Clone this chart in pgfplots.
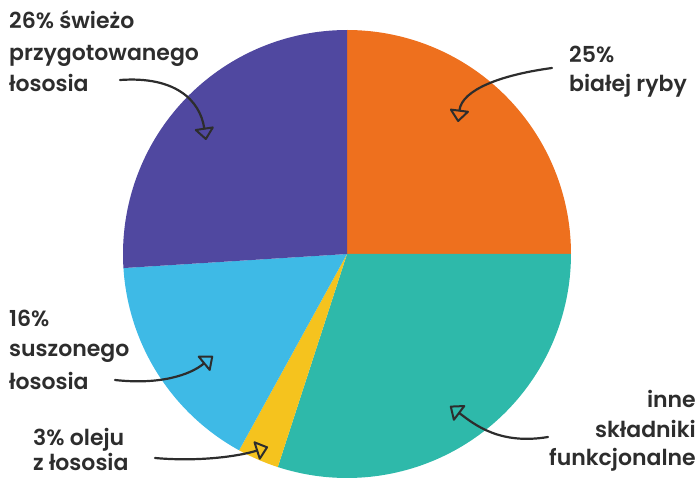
\documentclass[border=0pt]{standalone}
\usepackage{pgfplots}
\usepackage{pgfplotstable}
\pgfplotsset{compat=1.18}
\usetikzlibrary{arrows.meta}
\usepackage{fontspec}
\setmainfont{Poppins}[UprightFont={* SemiBold}]

\definecolor{pie0}{RGB}{238,112,30}
\definecolor{pie1}{RGB}{46,185,170}
\definecolor{pie2}{RGB}{245,195,30}
\definecolor{pie3}{RGB}{62,186,230}
\definecolor{pie4}{RGB}{80,72,160}
\definecolor{ink}{RGB}{45,45,45}

% shares in percent, clockwise from 12 o'clock
\pgfplotstableread{
share
25
30
3
16
26
}\piedata

\begin{document}
\begin{tikzpicture}
\useasboundingbox (0,0) rectangle (697pt,481pt);
\begin{axis}[
  at={(0,0)}, anchor=south west,
  width=697pt, height=481pt, scale only axis,
  xmin=0, xmax=697, ymin=0, ymax=481, y dir=reverse,
  hide axis, clip=false,
]
\pgfplotsextra{
  \xdef\cum{0}
  \pgfplotstableforeachcolumnelement{share}\of\piedata\as\v{%
    \pgfmathsetmacro\a{90-3.6*\cum}%
    \pgfmathsetmacro\b{90-3.6*(\cum+\v)}%
    \fill[pie\pgfplotstablerow] (axis cs:347,254)
      \foreach \k in {0,...,90} { -- (axis cs:{347+224*cos(\a+(\b-\a)*\k/90)},{254-224*sin(\a+(\b-\a)*\k/90)}) } -- cycle;
    \pgfmathsetmacro\c{\cum+\v}\xdef\cum{\c}%
  }
}

\tikzset{lab/.style={inner sep=0pt, text=ink, font=\fontsize{22}{26}\selectfont},
  arr/.style={draw=ink, line width=2.2pt, line cap=round,
    -{Triangle[open, round, length=13pt, width=21pt, line width=2pt]}}}

% labels
\node[lab, anchor=base west] at (axis cs:9,29) {26\% świeżo};
\node[lab, anchor=base west] at (axis cs:9,61) {przygotowanego};
\node[lab, anchor=base west] at (axis cs:9,92) {łososia};

\node[lab, anchor=base west] at (axis cs:569,63) {25\%};
\node[lab, anchor=base west] at (axis cs:569,92) {białej ryby};

\node[lab, anchor=base west] at (axis cs:9,327) {16\%};
\node[lab, anchor=base west] at (axis cs:9,357) {suszonego};
\node[lab, anchor=base west] at (axis cs:9,389) {łososia};

\node[lab, anchor=base west] at (axis cs:33,446) {3\% oleju};
\node[lab, anchor=base west] at (axis cs:33,471) {z łososia};

\node[lab, anchor=base east] at (axis cs:696,408) {inne};
\node[lab, anchor=base east] at (axis cs:696,437) {składniki};
\node[lab, anchor=base east] at (axis cs:696,465) {funkcjonalne};

% arrows
\draw[arr] (axis cs:120,80) .. controls (axis cs:175,76) and (axis cs:200,100) .. (axis cs:206,140);
\draw[arr] (axis cs:552,68) .. controls (axis cs:500,75) and (axis cs:462,90) .. (axis cs:458,122);
\draw[arr] (axis cs:115,380) .. controls (axis cs:160,385) and (axis cs:190,375) .. (axis cs:213,356);
\draw[arr] (axis cs:155,458) .. controls (axis cs:200,462) and (axis cs:240,456) .. (axis cs:268,447);
\draw[arr] (axis cs:548,437) .. controls (axis cs:500,445) and (axis cs:475,425) .. (axis cs:450,406);
\end{axis}
\end{tikzpicture}
\end{document}
